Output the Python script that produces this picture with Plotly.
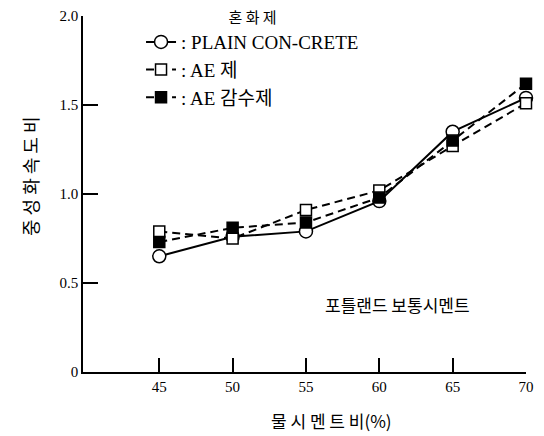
import plotly.graph_objects as go

# Data
wc_ratio = [45, 50, 55, 60, 65, 70]
plain = [0.65, 0.76, 0.79, 0.96, 1.35, 1.54]
ae_agent = [0.79, 0.75, 0.91, 1.02, 1.27, 1.51]
ae_water_reducer = [0.73, 0.81, 0.84, 0.98, 1.30, 1.62]

series_names = [": PLAIN CON-CRETE", ": AE 제", ": AE 감수제"]
x_ticks = [45, 50, 55, 60, 65, 70]
y_ticks = [0, 0.5, 1.0, 1.5, 2.0]
y_tick_text = ["0", "0.5", "1.0", "1.5", "2.0"]

FONT = "Liberation Serif, Noto Sans CJK KR, serif"
KFONT = "Noto Sans CJK KR, Liberation Serif"

fig = go.Figure()
fig.add_trace(go.Scatter(
    x=wc_ratio, y=plain, name=series_names[0], mode="lines+markers",
    line=dict(color="black", width=2, dash="solid"),
    marker=dict(symbol="circle", size=13, color="white", line=dict(color="black", width=1.5)),
    cliponaxis=False,
))
fig.add_trace(go.Scatter(
    x=wc_ratio, y=ae_agent, name=series_names[1], mode="lines+markers",
    line=dict(color="black", width=2, dash="8px,5px"),
    marker=dict(symbol="square", size=11, color="white", line=dict(color="black", width=1.5)),
    cliponaxis=False,
))
fig.add_trace(go.Scatter(
    x=wc_ratio, y=ae_water_reducer, name=series_names[2], mode="lines+markers",
    line=dict(color="black", width=2, dash="8px,5px"),
    marker=dict(symbol="square", size=11, color="black", line=dict(color="black", width=1.5)),
    cliponaxis=False,
))

fig.update_layout(
    width=544, height=436,
    margin=dict(l=83, r=18, t=16, b=64, autoexpand=False),
    paper_bgcolor="white", plot_bgcolor="white",
    font=dict(family=FONT, color="black", size=14),
    showlegend=True,
    legend=dict(
        x=0.131, y=1.035, xanchor="left", yanchor="top",
        bgcolor="rgba(0,0,0,0)",
        font=dict(family=FONT, size=19, color="black"),
        title=dict(text="혼 화 제", side="top center", font=dict(family=KFONT, size=15)),
        tracegroupgap=0,
    ),
    xaxis=dict(
        range=[39.8, 70], tickvals=x_ticks, ticktext=[str(v) for v in x_ticks],
        showgrid=False, zeroline=False, showline=True, linecolor="black", linewidth=1.5,
        ticks="inside", ticklen=14, tickwidth=1.5, tickcolor="black",
        tickfont=dict(family=FONT, size=15),
    ),
    yaxis=dict(
        range=[0, 2.0], tickvals=y_ticks, ticktext=y_tick_text,
        showgrid=False, zeroline=False, showline=True, linecolor="black", linewidth=1.5,
        ticks="inside", ticklen=15, tickwidth=1.5, tickcolor="black",
        tickfont=dict(family=FONT, size=15),
    ),
    annotations=[
        dict(text="중 성 화 속 도 비", textangle=-90, xref="paper", yref="paper",
             x=-0.12, y=0.55, xanchor="center", yanchor="middle",
             showarrow=False, font=dict(family=KFONT, size=18)),
        dict(text="물 시 멘 트 비(%)", xref="paper", yref="paper",
             x=0.56, y=-0.135, xanchor="center", yanchor="middle",
             showarrow=False, font=dict(family=KFONT, size=17)),
        dict(text="포틀랜드 보통시멘트", xref="paper", yref="paper",
             x=0.71, y=0.19, xanchor="center", yanchor="middle",
             showarrow=False, font=dict(family=KFONT, size=17)),
    ],
)

fig.write_html("out.html", config={"displayModeBar": False},
               post_script="document.body.style.margin='0';")
